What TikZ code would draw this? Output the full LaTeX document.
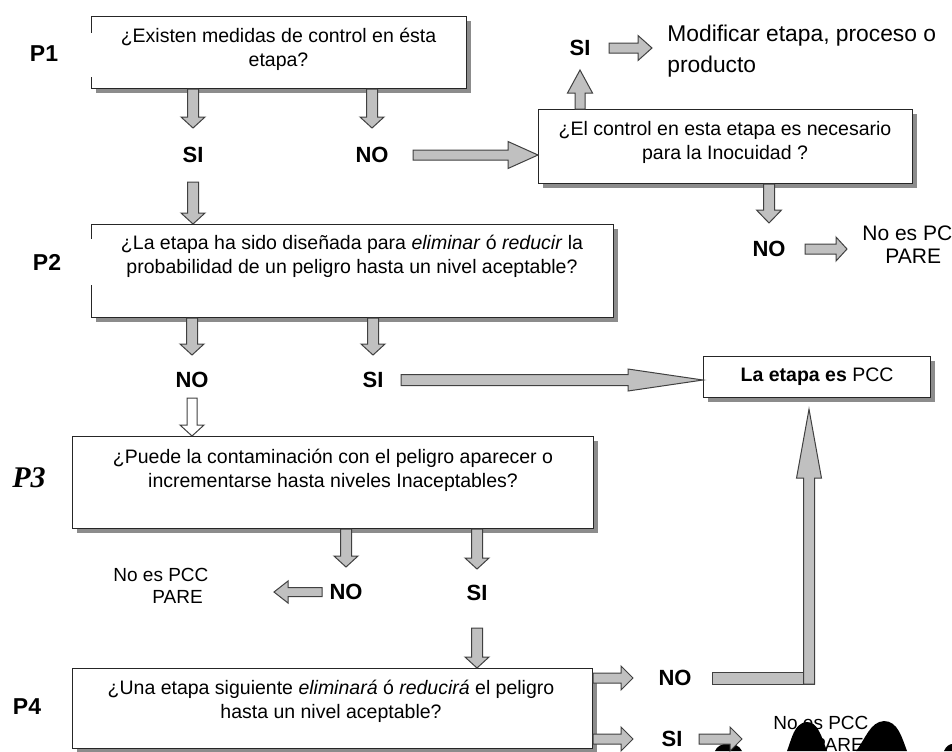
\documentclass[tikz,border=0pt]{standalone}
\usepackage{fontspec}
\setmainfont{Liberation Sans}
\newfontfamily\serifP{Liberation Serif}
\usetikzlibrary{calc,shadows,positioning}
\definecolor{arrowfill}{RGB}{192,192,192}
\definecolor{arrowline}{RGB}{64,64,64}
% block arrow: [style](from)(to){shaft half width}{head half width}{head length}
\def\blkarrow[#1](#2)(#3)#4#5#6{\draw[#1] ($(#2)!#4!90:(#3)$) -- ($(#3)!#6!(#2)!#4!90:(#3)$) -- ($(#3)!#6!(#2)!#5!90:(#3)$) -- (#3) -- ($(#3)!#6!(#2)!#5!-90:(#3)$) -- ($(#3)!#6!(#2)!#4!-90:(#3)$) -- ($(#2)!#4!-90:(#3)$) -- cycle;}

\begin{document}
\begin{tikzpicture}[x=0.5pt,y=-0.5pt,
	qbox/.style={draw=black!85, line width=0.6pt, fill=white, inner sep=0pt, anchor=north west,
		drop shadow={shadow xshift=2.2pt, shadow yshift=-2.2pt, fill=black!45, opacity=1}},
	qtext/.style={font=\fontsize{9.75}{12}\selectfont, align=center, inner sep=0pt},
	yesno/.style={font=\bfseries\fontsize{11}{13}\selectfont, inner sep=0pt},
	plabel/.style={font=\bfseries\fontsize{11.5}{13}\selectfont, inner sep=0pt},
	pare/.style={font=\fontsize{9.5}{11}\selectfont, align=left, inner sep=0pt, anchor=west},
	blk/.style={fill=arrowfill, draw=arrowline, line width=0.5pt, line join=miter},
	hollow/.style={blk, fill=white}]
			%%%%% START %%%%%
			\useasboundingbox (0,0) rectangle (952,751);
			\clip (0,0) rectangle (952,751);
			
			% blots at the bottom edge
			\fill[black] (715,751) .. controls (718,742) and (737,740) .. (742,751) -- cycle;
			\fill[black] (787,751) .. controls (792,738) and (794,724) .. (806,722) .. controls (818,721) and (822,738) .. (827,751) -- cycle;
			\fill[black] (856,751) .. controls (866,738) and (870,722) .. (884,721) .. controls (898,721) and (902,738) .. (907,751) -- cycle;
			\fill[black] (944,751) .. controls (946,746) and (950,744) .. (952,744) -- (952,751) -- cycle;
			
			\node[plabel] (p1) at (44,54) {P1};
			\node[plabel] (p2) at (47,262) {P2};
			\node[font=\serifP\bfseries\itshape\fontsize{15}{17}\selectfont, inner sep=0pt] (p3) at (29,478) {P3};
			\node[plabel] (p4) at (27,707) {P4};
			
			\node[qbox, minimum width=187.5pt, minimum height=36pt] (q1) at (91,16) {};
			\node[qtext] (t1) at (278.5,49.5) {¿Existen medidas de control en ésta\\etapa?};
			
			\node[qbox, minimum width=187pt, minimum height=37pt] (q2) at (538,109) {};
			\node[qtext] (t2) at (725,142.5) {¿El control en esta etapa es necesario\\para la Inocuidad ?};
			
			\node[qbox, minimum width=261pt, minimum height=46.5pt] (q3) at (91,224) {};
			\node[qtext] (t3) at (352,256) {¿La etapa ha sido diseñada para \textit{eliminar} ó \textit{reducir} la\\probabilidad de un peligro hasta un nivel aceptable?};
			
			\node[qbox, minimum width=113.5pt, minimum height=20.5pt, font=\fontsize{9.75}{12}\selectfont] (pcc) at (703,356) {\textbf{La etapa es} PCC};
			
			\node[qbox, minimum width=260.5pt, minimum height=46pt] (q4) at (72,436) {};
			\node[qtext] (t4) at (333,470) {¿Puede la contaminación con el peligro aparecer o\\incrementarse hasta niveles Inaceptables?};
			
			\node[qbox, minimum width=260pt, minimum height=40pt] (q5) at (72,668) {};
			\node[qtext] (t5) at (331,701.5) {¿Una etapa siguiente \textit{eliminará} ó \textit{reducirá} el peligro\\hasta un nivel aceptable?};
			
			% broken left edges
			\draw[white, line width=1.5pt] ([yshift=-8.5pt]q1.north west) -- ([yshift=-30.5pt]q1.north west);
			\draw[white, line width=1.5pt] ([yshift=-7.5pt]q3.north west) -- ([yshift=-30.5pt]q3.north west);
			
			\node[yesno] (si1) at (193,155) {SI};
			\node[yesno] (no1) at (372,155) {NO};
			\node[yesno] (si2) at (580,48) {SI};
			\node[font=\fontsize{11.4}{15.5}\selectfont, align=left, anchor=west, inner sep=0pt] (mod) at (667,51) {Modificar etapa, proceso o\\producto};
			\node[yesno] (no2) at (769,249) {NO};
			\node[pare, font=\fontsize{10.5}{11.5}\selectfont] (npcc1) at (862,245) {No es PCC\\\hspace*{11.5pt}PARE};
			\node[yesno] (no3) at (192,380) {NO};
			\node[yesno] (si3) at (373,380) {SI};
			\node[yesno] (no4) at (346,592) {NO};
			\node[yesno] (si4) at (477,593) {SI};
			\node[pare] (npcc2) at (113,586) {No es PCC\\\hspace*{19.5pt}PARE};
			\node[yesno] (no5) at (675,678) {NO};
			\node[yesno] (si5) at (672,739) {SI};
			\node[pare] (npcc3) at (773,734) {No es PCC\\\hspace*{20pt}PARE};
			
			% P1
			\blkarrow[blk](q1.south -| si1)([yshift=13.5pt]si1.center){2.75pt}{6pt}{5.5pt}
			\blkarrow[blk](q1.south -| no1)([yshift=13.5pt]no1.center){2.75pt}{6pt}{5.5pt}
			\blkarrow[blk]([xshift=20.5pt]no1.center)(q2.west |- no1){2.5pt}{6.75pt}{15pt}
			\blkarrow[blk]([yshift=-13.5pt]si1.center)(q3.north -| si1){2.75pt}{6pt}{5.5pt}
			\blkarrow[blk](q2.north -| si2)([yshift=-11pt]si2.center){2.5pt}{6.25pt}{11.5pt}
			\blkarrow[blk]([xshift=14.5pt]si2.center)([xshift=-7.5pt]mod.west |- si2){2.5pt}{6.25pt}{7pt}
			\blkarrow[blk](q2.south -| no2)([yshift=13pt]no2.center){2.75pt}{6.25pt}{6.5pt}
			\blkarrow[blk]([xshift=18pt]no2.center)([xshift=39pt]no2.center){2.5pt}{6pt}{5.5pt}
			
			% P2
			\blkarrow[blk](q3.south -| no3)([yshift=12.5pt]no3.center){2.75pt}{6pt}{5.5pt}
			\blkarrow[blk](q3.south -| si3)([yshift=12.5pt]si3.center){2.75pt}{6pt}{5.5pt}
			\blkarrow[blk]([xshift=14pt]si3.center)(pcc.west |- si3){2.75pt}{5.5pt}{37.5pt}
			\blkarrow[hollow]([yshift=-9pt]no3.center)(q4.north -| no3){2.5pt}{6pt}{5.5pt}
			
			% P3
			\blkarrow[blk](q4.south -| no4)([yshift=12.5pt]no4.center){2.75pt}{6pt}{5.5pt}
			\blkarrow[blk](q4.south -| si4)([yshift=12pt]si4.center){2.75pt}{6pt}{5.5pt}
			\blkarrow[blk]([xshift=-12pt]no4.center)([xshift=-36pt]no4.center){2.25pt}{5.5pt}{7pt}
			\blkarrow[blk]([yshift=-17.5pt]si4.center)(q5.north -| si4){2.75pt}{6pt}{5.5pt}
			
			% P4
			\blkarrow[blk](q5.east |- no5)([xshift=-21pt]no5.center){2.5pt}{6pt}{6pt}
			\blkarrow[blk](q5.east |- si5)([xshift=-19.5pt]si5.center){2.5pt}{6pt}{6pt}
			\blkarrow[blk]([xshift=13.5pt]si5.center)([xshift=35pt]si5.center){2.5pt}{6pt}{6pt}
			\coordinate (elb) at (809,684);
			\coordinate (tipP) at ($(elb |- pcc.south)+(0,11)$);
			\draw[blk] ([xshift=18.5pt,yshift=3pt]no5.center) rectangle ([xshift=2.75pt]elb);
			\blkarrow[blk](elb)(tipP){2.75pt}{6.25pt}{34.5pt}
			%%%%% END %%%%%
\end{tikzpicture}
\end{document}
